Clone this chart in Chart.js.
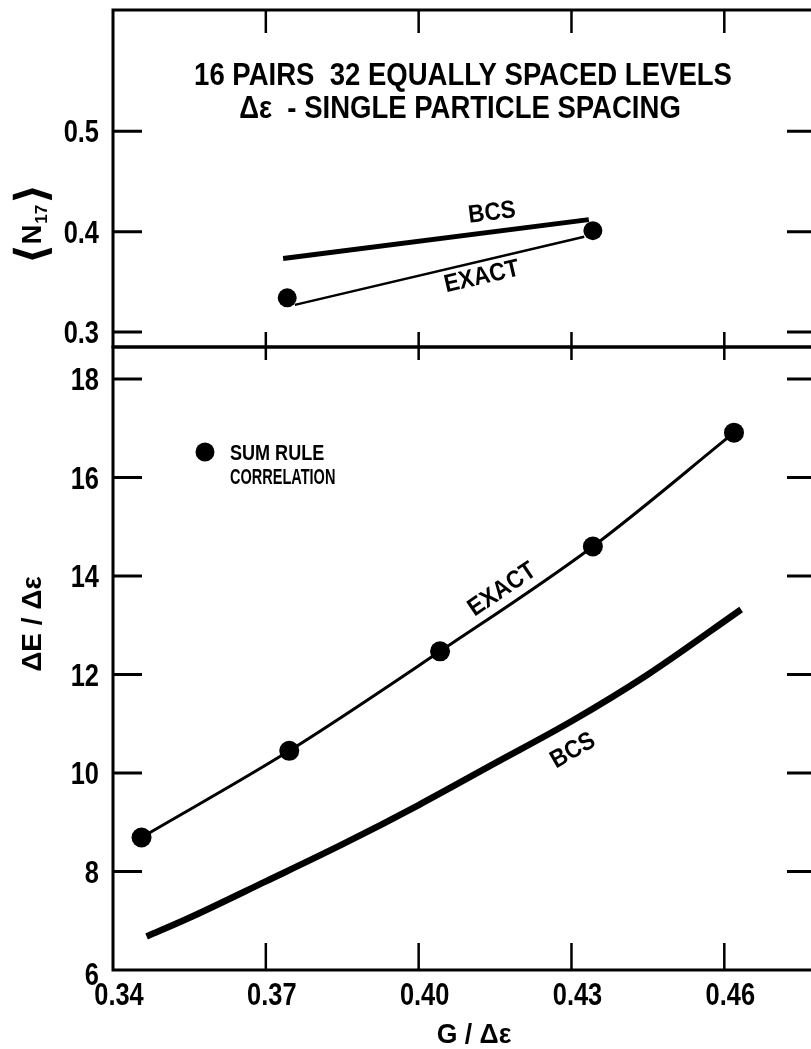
<!DOCTYPE html>
<html>
<head>
<meta charset="utf-8">
<title>16 pairs, 32 equally spaced levels</title>
<script src="https://cdn.jsdelivr.net/npm/chart.js@4.4.1/dist/chart.umd.min.js"></script>
<style>
  html, body { margin: 0; padding: 0; background: #fff; overflow: hidden; }
  #wrap { position: relative; width: 811px; height: 1049px; overflow: hidden; }
  canvas { position: absolute; left: 0; top: 0; }
  #upper { top: -30px; }
</style>
</head>
<body>
<div id="wrap">
  <canvas id="lower" width="830" height="1049"></canvas>
  <canvas id="upper" width="830" height="420"></canvas>
</div>
<script>
// shared G/Δε axis
const xTicks = [0.34, 0.37, 0.40, 0.43, 0.46];

// upper panel: <N17>
const upperTicks = [0.3, 0.4, 0.5];
const upperBcsX = [0.3734, 0.4334];
const upperBcsY = [0.3733, 0.412];
const upperExactLineX = [0.3757, 0.4325];
const upperExactLineY = [0.327, 0.395];
const upperExactDotX = [0.3742, 0.4342];
const upperExactDotY = [0.334, 0.401];

// lower panel: ΔE/Δε
const lowerTicks = [6, 8, 10, 12, 14, 16, 18];
const exactX = [0.3456, 0.3746, 0.4042, 0.4342, 0.4619];
const exactY = [8.69, 10.45, 12.47, 14.60, 16.91];
const bcsX = [0.3466, 0.355, 0.37, 0.385, 0.40, 0.415, 0.43, 0.445, 0.4633];
const bcsY = [6.68, 7.06, 7.80, 8.55, 9.35, 10.20, 11.05, 12.00, 13.32];

const INK = '#000';
const SANS = '"Liberation Sans", Arial, Helvetica, sans-serif';
const TICK_FONT = 'bold 31px ' + SANS;

function pts(xs, ys) {
  return xs.map((x, i) => ({ x: x, y: ys[i] }));
}

// sx < 1 squeezes the glyphs sideways (condensed lettering)
function text(ctx, str, px, py, deg, font, align, sx) {
  ctx.save();
  ctx.translate(px, py);
  ctx.rotate(deg * Math.PI / 180);
  ctx.scale(sx || 1, 1);
  ctx.font = font;
  ctx.fillStyle = INK;
  ctx.textAlign = align || 'center';
  ctx.textBaseline = 'middle';
  ctx.fillText(str, 0, 0);
  ctx.restore();
}

function tickLabels(chart, yTicks, yFmt, showX) {
  const ctx = chart.ctx, a = chart.chartArea;
  const x = chart.scales.x, y = chart.scales.y;
  yTicks.forEach(v => {
    const py = y.getPixelForValue(v) + (v === y.min ? 6 : 2.5);
    text(ctx, yFmt(v), a.left - 14, py, 0, TICK_FONT, 'right', 0.82);
  });
  if (!showX) return;
  xTicks.forEach(v => {
    text(ctx, v.toFixed(2), x.getPixelForValue(v) + 6, a.bottom + 26, 0, TICK_FONT, 'center', 0.82);
  });
}

// box with inward tick marks on all four sides
function framePlugin(cfg) {
  return {
    id: 'frame',
    beforeDatasetsDraw(chart) {
      const ctx = chart.ctx, a = chart.chartArea;
      const x = chart.scales.x, y = chart.scales.y;
      ctx.save();
      ctx.strokeStyle = INK;
      ctx.lineWidth = 3;
      ctx.beginPath();
      ctx.rect(a.left, a.top, a.right - a.left, a.bottom - a.top);
      ctx.stroke();

      ctx.lineWidth = 2.5;
      ctx.beginPath();
      xTicks.forEach(v => {
        const px = x.getPixelForValue(v);
        if (px - a.left < 3) return;
        ctx.moveTo(px, a.top);
        ctx.lineTo(px, a.top + cfg.topTick);
        ctx.moveTo(px, a.bottom);
        ctx.lineTo(px, a.bottom - cfg.bottomTick);
      });
      ctx.stroke();

      ctx.lineWidth = 3;
      ctx.beginPath();
      cfg.yTicks.forEach(v => {
        const py = y.getPixelForValue(v);
        if (a.bottom - py < 3) return;
        ctx.moveTo(a.left, py);
        ctx.lineTo(a.left + 29, py);
        ctx.moveTo(a.right, py);
        ctx.lineTo(a.right - 29, py);
      });
      ctx.stroke();
      ctx.restore();
    },
    afterDraw(chart) {
      tickLabels(chart, cfg.yTicks, cfg.yFmt, cfg.showX);
      cfg.notes(chart);
    }
  };
}

function baseOptions(yMin, yMax, padTop, xHeight) {
  return {
    responsive: false,
    animation: false,
    devicePixelRatio: 1,
    layout: { padding: { top: padTop, right: 14, left: 0, bottom: 0 } },
    plugins: { legend: { display: false }, tooltip: { enabled: false } },
    scales: {
      x: {
        type: 'linear',
        min: 0.34,
        max: 0.478,
        grid: { display: false, drawTicks: false },
        border: { display: false },
        ticks: { display: false },
        afterFit: s => { s.height = xHeight; }
      },
      y: {
        type: 'linear',
        min: yMin,
        max: yMax,
        grid: { display: false, drawTicks: false },
        border: { display: false },
        ticks: { display: false },
        afterFit: s => { s.width = 113; }
      }
    }
  };
}

// lower panel
new Chart(document.getElementById('lower'), {
  type: 'scatter',
  data: {
    datasets: [
      {
        label: 'BCS',
        data: pts(bcsX, bcsY),
        showLine: true,
        borderColor: INK,
        borderWidth: 6.5,
        pointRadius: 0,
        cubicInterpolationMode: 'monotone'
      },
      {
        label: 'EXACT',
        data: pts(exactX, exactY),
        showLine: true,
        borderColor: INK,
        borderWidth: 3,
        pointRadius: 10,
        pointBackgroundColor: INK,
        pointBorderWidth: 0,
        cubicInterpolationMode: 'monotone'
      }
    ]
  },
  options: baseOptions(6, 18.65, 347, 79),
  plugins: [framePlugin({
    topTick: 13,
    bottomTick: 27,
    yTicks: lowerTicks,
    yFmt: v => String(v),
    showX: true,
    notes(chart) {
      const ctx = chart.ctx, a = chart.chartArea;
      const x = chart.scales.x, y = chart.scales.y;
      text(ctx, 'ΔE / Δε', 33, 624, -90, 'bold 28px ' + SANS);
      text(ctx, 'G / Δε', 474, 1035, 0, 'bold 28px ' + SANS, 'center', 0.95);

      // legend
      ctx.save();
      ctx.fillStyle = INK;
      ctx.beginPath();
      ctx.arc(a.left + 92, a.top + 105, 9.5, 0, Math.PI * 2);
      ctx.fill();
      ctx.restore();
      text(ctx, 'SUM RULE', a.left + 117, a.top + 107, 0, 'bold 22px ' + SANS, 'left', 0.82);
      text(ctx, 'CORRELATION', a.left + 117, a.top + 131, 0, 'bold 22px ' + SANS, 'left', 0.66);

      text(ctx, 'EXACT', x.getPixelForValue(0.4164), y.getPixelForValue(13.72), -34, 'bold 25px ' + SANS, 'center', 0.9);
      text(ctx, 'BCS', x.getPixelForValue(0.4303), y.getPixelForValue(10.45), -30, 'bold 25px ' + SANS, 'center', 0.9);
    }
  })]
});

// upper panel
new Chart(document.getElementById('upper'), {
  type: 'scatter',
  data: {
    datasets: [
      {
        label: 'BCS',
        data: pts(upperBcsX, upperBcsY),
        showLine: true,
        borderColor: INK,
        borderWidth: 5,
        pointRadius: 0
      },
      {
        label: 'EXACT',
        data: pts(upperExactLineX, upperExactLineY),
        showLine: true,
        borderColor: INK,
        borderWidth: 2.5,
        pointRadius: 0
      },
      {
        label: 'SUM RULE CORRELATION',
        data: pts(upperExactDotX, upperExactDotY),
        showLine: false,
        pointRadius: 9.5,
        pointBackgroundColor: INK,
        pointBorderWidth: 0
      }
    ]
  },
  options: baseOptions(0.285, 0.621, 40, 43),
  plugins: [framePlugin({
    topTick: 23,
    bottomTick: 15,
    yTicks: upperTicks,
    yFmt: v => v.toFixed(1),
    showX: false,
    notes(chart) {
      const ctx = chart.ctx, a = chart.chartArea;
      const x = chart.scales.x, y = chart.scales.y;
      text(ctx, '16 PAIRS  32 EQUALLY SPACED LEVELS', 463, a.top + 66, 0, 'bold 32px ' + SANS, 'center', 0.86);
      text(ctx, 'Δε  - SINGLE PARTICLE SPACING', 460, a.top + 99, 0, 'bold 32px ' + SANS, 'center', 0.86);

      text(ctx, 'BCS', x.getPixelForValue(0.4144), y.getPixelForValue(0.4186), -7, 'bold 25px ' + SANS, 'center', 0.9);
      text(ctx, 'EXACT', x.getPixelForValue(0.4124), y.getPixelForValue(0.3548), -13, 'bold 25px ' + SANS, 'center', 0.9);

      // <N17> built from pieces, rotated to read upwards
      ctx.save();
      ctx.translate(31, a.top + 214);
      ctx.rotate(-Math.PI / 2);
      ctx.fillStyle = INK;
      ctx.textBaseline = 'alphabetic';
      const br = 'bold 44px "DejaVu Sans", ' + SANS;
      const nf = 'bold 27px ' + SANS;
      const sf = 'bold 17px ' + SANS;
      ctx.font = br;
      const wl = ctx.measureText('⟨').width;
      const wr = ctx.measureText('⟩').width;
      ctx.font = nf;
      const wn = ctx.measureText('N').width;
      ctx.font = sf;
      const ws = ctx.measureText('17').width;
      let cx = -(wl + wn + ws + wr + 2) / 2;
      ctx.font = br;
      ctx.fillText('⟨', cx, 15);
      cx += wl;
      ctx.font = nf;
      ctx.fillText('N', cx, 10);
      cx += wn + 1;
      ctx.font = sf;
      ctx.fillText('17', cx, 16);
      cx += ws + 1;
      ctx.font = br;
      ctx.fillText('⟩', cx, 15);
      ctx.restore();
    }
  })]
});
</script>
</body>
</html>
